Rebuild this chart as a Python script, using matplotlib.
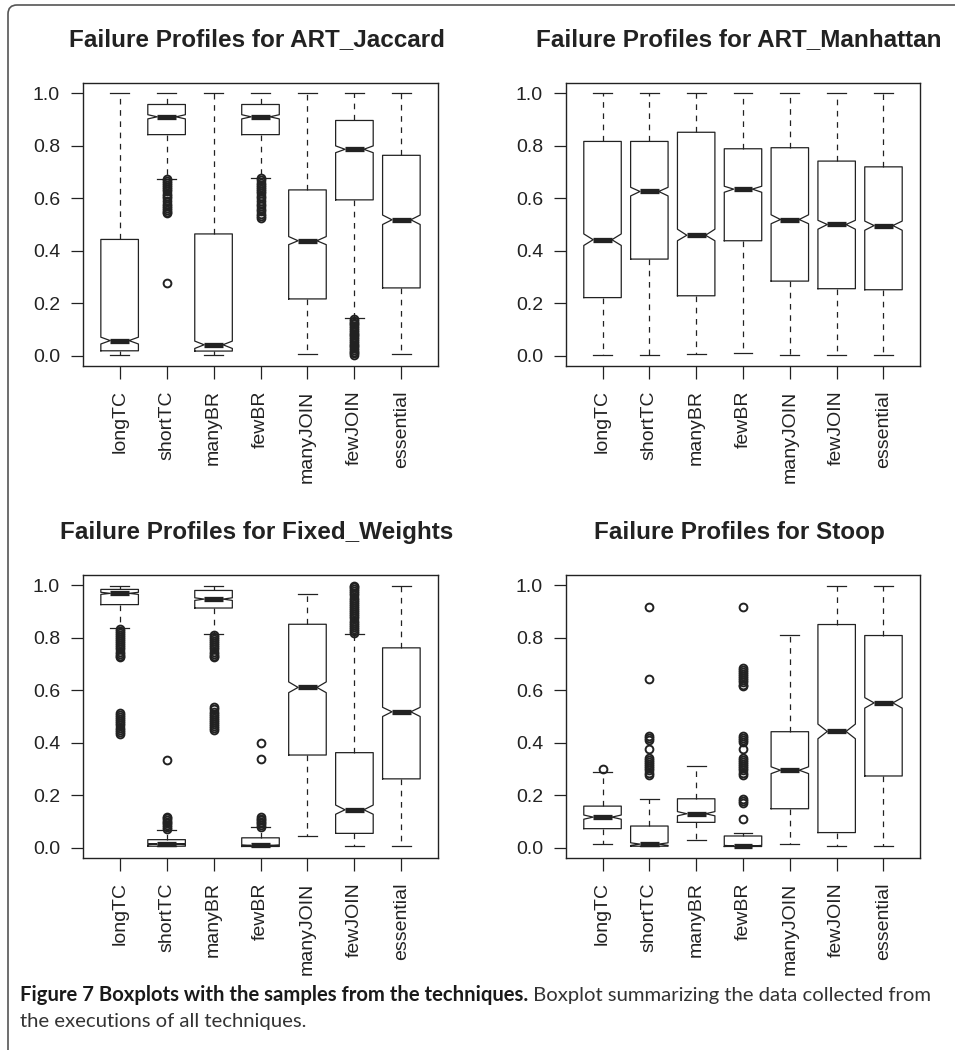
import matplotlib
matplotlib.use("Agg")
import matplotlib.pyplot as plt
from matplotlib.patches import FancyBboxPatch

W, H = 955, 1050
DPI = 100

names = ["longTC", "shortTC", "manyBR", "fewBR", "manyJOIN", "fewJOIN", "essential"]

# -------------------------
# ART_Jaccard
# -------------------------
jac_title = "Failure Profiles for ART_Jaccard"
jac_hi = [1.0, 1.0, 1.0, 1.0, 1.0, 1.0, 1.0]
jac_q3 = [0.443, 0.958, 0.464, 0.958, 0.632, 0.897, 0.764]
jac_med = [0.057, 0.911, 0.041, 0.911, 0.438, 0.787, 0.518]
jac_q1 = [0.018, 0.843, 0.017, 0.843, 0.216, 0.594, 0.258]
jac_lo = [0.003, 0.674, 0.003, 0.679, 0.005, 0.143, 0.005]
jac_ci = [(0.044, 0.070), (0.903, 0.919), (0.027, 0.055), (0.903, 0.919),
          (0.423, 0.454), (0.774, 0.800), (0.500, 0.536)]
jac_fliers = [
    [],
    [0.672, 0.665, 0.658, 0.650, 0.642, 0.635, 0.627, 0.618, 0.610, 0.600,
     0.590, 0.580, 0.570, 0.562, 0.555, 0.548, 0.543, 0.277],
    [],
    [0.676, 0.668, 0.660, 0.652, 0.644, 0.636, 0.628, 0.620, 0.610, 0.600,
     0.590, 0.580, 0.570, 0.560, 0.550, 0.540, 0.532, 0.525],
    [],
    [0.140, 0.133, 0.126, 0.119, 0.112, 0.105, 0.098, 0.091, 0.084, 0.077,
     0.070, 0.063, 0.056, 0.049, 0.042, 0.035, 0.028, 0.021, 0.014, 0.008, 0.003],
    [],
]

# -------------------------
# ART_Manhattan
# -------------------------
man_title = "Failure Profiles for ART_Manhattan"
man_hi = [1.0, 1.0, 1.0, 1.0, 1.0, 1.0, 1.0]
man_q3 = [0.817, 0.817, 0.852, 0.789, 0.793, 0.742, 0.720]
man_med = [0.442, 0.626, 0.459, 0.635, 0.519, 0.500, 0.496]
man_q1 = [0.221, 0.368, 0.228, 0.438, 0.284, 0.255, 0.251]
man_lo = [0.003, 0.003, 0.004, 0.011, 0.003, 0.003, 0.003]
man_ci = [(0.420, 0.464), (0.609, 0.642), (0.438, 0.482), (0.623, 0.646),
          (0.503, 0.537), (0.482, 0.516), (0.478, 0.513)]
man_fliers = [[], [], [], [], [], [], []]

# -------------------------
# Fixed_Weights
# -------------------------
fix_title = "Failure Profiles for Fixed_Weights"
fix_hi = [0.997, 0.066, 0.997, 0.077, 0.967, 0.814, 0.997]
fix_q3 = [0.985, 0.030, 0.981, 0.037, 0.852, 0.362, 0.762]
fix_med = [0.970, 0.013, 0.948, 0.008, 0.611, 0.144, 0.518]
fix_q1 = [0.927, 0.005, 0.914, 0.004, 0.353, 0.054, 0.262]
fix_lo = [0.838, 0.005, 0.816, 0.004, 0.043, 0.005, 0.005]
fix_ci = [(0.966, 0.974), (0.011, 0.015), (0.943, 0.953), (0.006, 0.010),
          (0.591, 0.632), (0.127, 0.162), (0.500, 0.535)]
fix_fliers = [
    [0.835, 0.828, 0.820, 0.812, 0.804, 0.796, 0.788, 0.780, 0.772, 0.764,
     0.756, 0.748, 0.740, 0.732, 0.726,
     0.512, 0.505, 0.498, 0.490, 0.482, 0.474, 0.466, 0.458, 0.450, 0.442, 0.435],
    [0.072, 0.078, 0.085, 0.092, 0.099, 0.106, 0.113, 0.118, 0.335],
    [0.812, 0.804, 0.796, 0.788, 0.780, 0.772, 0.764, 0.756, 0.748, 0.740,
     0.732, 0.726,
     0.535, 0.527, 0.519, 0.511, 0.503, 0.495, 0.487, 0.479, 0.471, 0.463,
     0.455, 0.449],
    [0.080, 0.086, 0.092, 0.098, 0.104, 0.110, 0.115, 0.337, 0.400],
    [],
    [0.818, 0.826, 0.834, 0.842, 0.850, 0.858, 0.866, 0.874, 0.882, 0.890,
     0.898, 0.906, 0.914, 0.922, 0.930, 0.938, 0.946, 0.954, 0.962, 0.970,
     0.978, 0.986, 0.994, 0.998],
    [],
]

# -------------------------
# Stoop
# -------------------------
stp_title = "Failure Profiles for Stoop"
stp_hi = [0.287, 0.184, 0.310, 0.054, 0.810, 0.997, 0.997]
stp_q3 = [0.158, 0.082, 0.186, 0.044, 0.442, 0.851, 0.809]
stp_med = [0.116, 0.013, 0.129, 0.006, 0.295, 0.443, 0.552]
stp_q1 = [0.072, 0.005, 0.096, 0.004, 0.148, 0.057, 0.273]
stp_lo = [0.015, 0.005, 0.028, 0.004, 0.015, 0.005, 0.005]
stp_ci = [(0.108, 0.124), (0.008, 0.018), (0.121, 0.137), (0.004, 0.008),
          (0.282, 0.308), (0.415, 0.471), (0.532, 0.572)]
stp_fliers = [
    [0.299],
    [0.919, 0.643, 0.424, 0.418, 0.410, 0.377, 0.342, 0.334, 0.326, 0.318,
     0.310, 0.302, 0.294, 0.286, 0.278],
    [],
    [0.919, 0.686, 0.678, 0.670, 0.662, 0.654, 0.646, 0.638, 0.630, 0.622,
     0.618, 0.424, 0.418, 0.410, 0.402, 0.377, 0.342, 0.334, 0.326, 0.318,
     0.310, 0.302, 0.294, 0.286, 0.278, 0.184, 0.176, 0.168, 0.107],
    [],
    [],
    [],
]

yticks = [0.0, 0.2, 0.4, 0.6, 0.8, 1.0]
ytick_labels = ["0.0", "0.2", "0.4", "0.6", "0.8", "1.0"]

caption_bold = "Figure 7 Boxplots with the samples from the techniques."
caption_rest = " Boxplot summarizing the data collected from"
caption_line2 = "the executions of all techniques."

INK = "#222222"
plt.rcParams["font.family"] = ["Liberation Sans", "DejaVu Sans"]


def box_stats(med, q1, q3, lo, hi, ci, fliers):
    stats = []
    for i in range(len(med)):
        stats.append({
            "med": med[i], "q1": q1[i], "q3": q3[i],
            "whislo": lo[i], "whishi": hi[i],
            "cilo": ci[i][0], "cihi": ci[i][1],
            "fliers": fliers[i],
        })
    return stats


def px_axes(fig, left, top, right, bottom):
    return fig.add_axes([left / W, 1 - bottom / H, (right - left) / W, (bottom - top) / H])


def draw_panel(ax, title, stats):
    ax.bxp(
        stats,
        positions=range(1, len(stats) + 1),
        widths=0.8,
        shownotches=True,
        boxprops=dict(color=INK, linewidth=0.9),
        whiskerprops=dict(color=INK, linewidth=0.9, linestyle=(0, (4.5, 4.5))),
        capprops=dict(color=INK, linewidth=0.9),
        medianprops=dict(color=INK, linewidth=3.8, solid_capstyle="butt"),
        flierprops=dict(marker="o", markersize=5.6, markerfacecolor="none",
                        markeredgecolor=INK, markeredgewidth=1.4),
    )
    ax.set_xlim(0.22, 7.78)
    ax.set_ylim(-0.04, 1.04)
    ax.set_yticks(yticks)
    ax.set_yticklabels(ytick_labels)
    ax.set_xticks(range(1, len(names) + 1))
    ax.set_xticklabels(names, rotation=90, va="top", ha="center")
    ax.tick_params(axis="both", length=9, width=0.9, colors=INK, labelsize=14, pad=8.5)
    ax.tick_params(axis="y", pad=7.5)
    for sp in ax.spines.values():
        sp.set_color(INK)
        sp.set_linewidth(1.0)
    pos = ax.get_position()
    fig.text(pos.x0 + pos.width / 2 - 4 / W, pos.y1 + 43 / H, title,
             ha="center", va="center", fontsize=17.5, fontweight="bold", color=INK)


fig = plt.figure(figsize=(W / DPI, H / DPI), dpi=DPI)

# outer frame, open to the right and bottom
frame = FancyBboxPatch((0.08, -0.5), 12.0, 10.95,
                       boxstyle="round,pad=0,rounding_size=0.09",
                       transform=fig.dpi_scale_trans, fill=False,
                       edgecolor="#555555", linewidth=1.2)
fig.patches.append(frame)

ax1 = px_axes(fig, 83, 83, 438, 366)
ax2 = px_axes(fig, 566, 83, 920, 366)
ax3 = px_axes(fig, 83, 575, 438, 858)
ax4 = px_axes(fig, 566, 575, 920, 858)

draw_panel(ax1, jac_title, box_stats(jac_med, jac_q1, jac_q3, jac_lo, jac_hi, jac_ci, jac_fliers))
draw_panel(ax2, man_title, box_stats(man_med, man_q1, man_q3, man_lo, man_hi, man_ci, man_fliers))
draw_panel(ax3, fix_title, box_stats(fix_med, fix_q1, fix_q3, fix_lo, fix_hi, fix_ci, fix_fliers))
draw_panel(ax4, stp_title, box_stats(stp_med, stp_q1, stp_q3, stp_lo, stp_hi, stp_ci, stp_fliers))

# caption below the panels
cap_font = ["Lato", "DejaVu Sans"]
cap_size = 14.6
t1 = fig.text(20 / W, 1 - 995 / H, caption_bold, ha="left", va="center",
              fontsize=cap_size, fontweight="bold", color="#1a1a1a", family=cap_font)
fig.canvas.draw()
bb = t1.get_window_extent()
fig.text(bb.x1 / W, 1 - 995 / H, caption_rest, ha="left", va="center",
         fontsize=cap_size, color="#333333", family=cap_font)
fig.text(20 / W, 1 - 1022 / H, caption_line2, ha="left", va="center",
         fontsize=cap_size, color="#333333", family=cap_font)

fig.savefig("out.png", dpi=DPI)
